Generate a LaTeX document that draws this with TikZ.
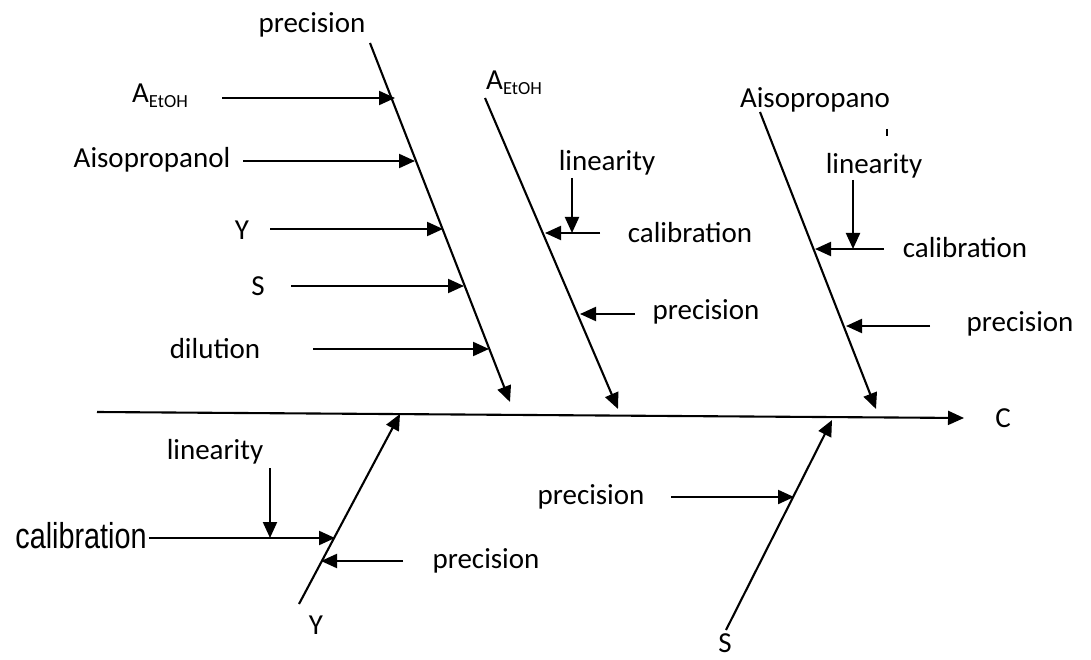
\documentclass[tikz,border=0pt]{standalone}
\usepackage{fontspec}
\setmainfont{Carlito}
\newfontfamily\arialf{Liberation Sans}
\usetikzlibrary{arrows.meta}
\newcommand{\AEtOH}{A\raisebox{-4.5pt}{\fontsize{18.5}{18.5}\selectfont EtOH}}
\tikzset{
  lbl/.style={font=\fontsize{29}{31}\selectfont, inner sep=0pt, anchor=center},
  bone/.style={line width=2pt},
  arr/.style={line width=2.1pt, -{Triangle[length=16pt,width=14pt]}},
}
\begin{document}
\begin{tikzpicture}[x=1pt,y=-1pt]
\useasboundingbox (0,0) rectangle (1091,660);
% labels
\node[lbl] (ltop) at (312,25) {precision};
\node[lbl] (la1) at (160,96) {\AEtOH};
\node[lbl] (lai) at (152,160) {Aisopropanol};
\node[lbl] (ly1) at (242,230) {Y};
\node[lbl] (ls1) at (258,286) {S};
\node[lbl] (ldil) at (215,349) {dilution};
\node[lbl] (la2) at (514,83) {\AEtOH};
\node[lbl] (llin2) at (607,163) {linearity};
\node[lbl] (lcal2) at (690,233) {calibration};
\node[lbl] (lpre2) at (706,312) {precision};
\node[lbl] (lai3) at (815,100) {Aisopropano};
\node[lbl] (llin3) at (874,166) {linearity};
\node[lbl] (lcal3) at (965,248) {calibration};
\node[lbl] (lpre3) at (1020,324) {precision};
\node[lbl] (lc) at (1003,418) {C};
\node[lbl] (llinb) at (215,452) {linearity};
\node[lbl, font=\arialf\fontsize{36}{38}\selectfont, xscale=0.8] (lcalb) at (81,536) {calibration};
\node[lbl] (lpreb) at (486,561) {precision};
\node[lbl] (lpreS) at (591,497) {precision};
\node[lbl] (lyb) at (316,625) {Y};
\node[lbl] (lsb) at (725,643) {S};
% bone coordinates
\coordinate (s0) at (97,412);   \coordinate (s1) at (964,418);
\coordinate (b1t) at (370,43);  \coordinate (b1h) at (510,402);
\coordinate (b2t) at (485,98);  \coordinate (b2h) at (618,409);
\coordinate (b3t) at (760,112); \coordinate (b3h) at (876,409);
\coordinate (bYt) at (299,604); \coordinate (bYh) at (400,414);
\coordinate (bSt) at (726,630); \coordinate (bSh) at (832,420);
% arrow ends
\coordinate (a1s) at (222,98);  \coordinate (a1e) at (395,98);
\coordinate (a2s) at (243,161); \coordinate (a2e) at (415,161);
\coordinate (a3s) at (270,229); \coordinate (a3e) at (443,229);
\coordinate (a4s) at (291,286); \coordinate (a4e) at (464,286);
\coordinate (a5s) at (313,349); \coordinate (a5e) at (489,349);
\coordinate (c2s) at (600,233); \coordinate (c2e) at (545,233);
\coordinate (l2s) at (572,178); \coordinate (l2e) at (572,233);
\coordinate (p2s) at (635,314); \coordinate (p2e) at (580,314);
\coordinate (c3s) at (884,249); \coordinate (c3e) at (815,249);
\coordinate (l3s) at (853,180); \coordinate (l3e) at (853,249);
\coordinate (p3s) at (930,326); \coordinate (p3e) at (846,326);
\coordinate (cbs) at (149,538); \coordinate (cbe) at (335,538);
\coordinate (lbs) at (270,468); \coordinate (lbe) at (270,538);
\coordinate (pbs) at (403,561); \coordinate (pbe) at (321,561);
\coordinate (pSs) at (671,497); \coordinate (pSe) at (794,497);
\coordinate (tk0) at (887,129); \coordinate (tk1) at (887,136);
% bones
\draw[arr] (s0) -- (s1);
\draw[arr] (b1t) -- (b1h);
\draw[arr] (b2t) -- (b2h);
\draw[arr] (b3t) -- (b3h);
\draw[arr] (bYt) -- (bYh);
\draw[arr] (bSt) -- (bSh);
% sub arrows
\draw[arr] (a1s) -- (a1e);
\draw[arr] (a2s) -- (a2e);
\draw[arr] (a3s) -- (a3e);
\draw[arr] (a4s) -- (a4e);
\draw[arr] (a5s) -- (a5e);
\draw[arr] (c2s) -- (c2e);
\draw[arr] (l2s) -- (l2e);
\draw[arr] (p2s) -- (p2e);
\draw[arr] (c3s) -- (c3e);
\draw[arr] (l3s) -- (l3e);
\draw[arr] (p3s) -- (p3e);
\draw[arr] (cbs) -- (cbe);
\draw[arr] (lbs) -- (lbe);
\draw[arr] (pbs) -- (pbe);
\draw[arr] (pSs) -- (pSe);
\draw[bone, line width=2.5pt] (tk0) -- (tk1);
\end{tikzpicture}
\end{document}
